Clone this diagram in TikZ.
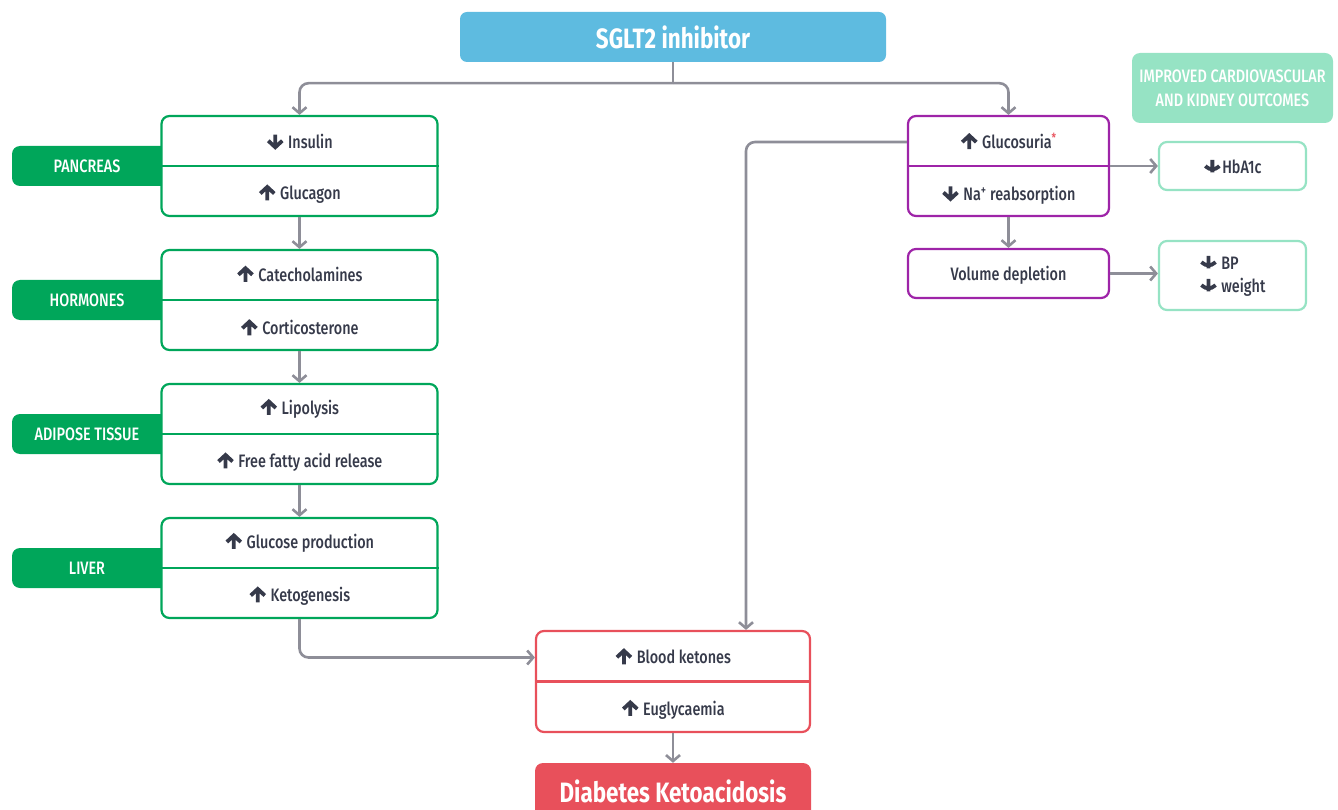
\documentclass[tikz,border=0pt]{standalone}
\usepackage{fontspec}
\setmainfont[FakeStretch=0.8,UprightFont={* Medium},BoldFont={* Bold}]{Fira Sans}
\usetikzlibrary{positioning,arrows.meta}

\definecolor{skyblue}{RGB}{94,187,224}
\definecolor{organgreen}{RGB}{0,166,90}
\definecolor{kidpurple}{RGB}{158,36,168}
\definecolor{ketored}{RGB}{232,80,91}
\definecolor{mint}{RGB}{150,227,196}
\definecolor{arrgray}{RGB}{142,142,152}
\definecolor{txtdark}{RGB}{54,58,74}

% bold arrows used in front of the labels
\newcommand{\upar}{\tikz[baseline=0pt]{\draw[txtdark,line width=3.8pt] (0pt,-0.5pt)--(0pt,13pt) (-7pt,6.5pt)--(0pt,13pt)--(7pt,6.5pt);}\hspace{4pt}}
\newcommand{\dnar}{\tikz[baseline=0pt]{\draw[txtdark,line width=3.8pt] (0pt,14pt)--(0pt,1.5pt) (-7pt,8pt)--(0pt,1.5pt)--(7pt,8pt);}\hspace{4pt}}

\tikzset{
  grp/.style={draw=#1, line width=2.2pt, rounded corners=8pt, fill=white, minimum width=276pt, minimum height=100pt},
  lbl/.style={text=txtdark, font=\fontsize{18}{21}\selectfont, inner sep=0pt},
  tab/.style={fill=organgreen, rounded corners=8pt, minimum width=166pt, minimum height=40pt, text=white, font=\fontsize{18}{21}\selectfont},
  conn/.style={draw=arrgray, line width=2.6pt, rounded corners=9pt, -{Straight Barb[length=6pt,width=14pt]}},
}

\begin{document}
\begin{tikzpicture}[x=1pt,y=-1pt]
  %%%%% START %%%%%
  \useasboundingbox (0,0) rectangle (1338,810);

  \node[fill=skyblue, rounded corners=7pt, minimum width=426pt, minimum height=50pt, text=white, font=\bfseries\fontsize{28}{32}\selectfont] (sglt) at (673,37) {SGLT2 inhibitor};

  % organ tabs (right end hidden under the boxes)
  \node[tab] (lbpanc) at (95,166) {PANCREAS\kern16pt};
  \node[tab] (lbhorm) at (95,300) {HORMONES\kern16pt};
  \node[tab] (lbadip) at (95,434) {ADIPOSE TISSUE\kern16pt};
  \node[tab] (lbliver) at (95,568) {LIVER\kern16pt};

  % left column
  \node[grp=organgreen] (panc) at (299.5,166) {};
  \node[grp=organgreen, below=31.8pt of panc] (horm) {};
  \node[grp=organgreen, below=31.8pt of horm] (adip) {};
  \node[grp=organgreen, below=31.8pt of adip] (liver) {};
  \draw[organgreen, line width=2.2pt] (panc.west) -- (panc.east);
  \draw[organgreen, line width=2.2pt] (horm.west) -- (horm.east);
  \draw[organgreen, line width=2.2pt] (adip.west) -- (adip.east);
  \draw[organgreen, line width=2.2pt] (liver.west) -- (liver.east);

  \node[lbl] (insulin) at ([yshift=25pt]panc.center) {\dnar Insulin};
  \node[lbl] (glucagon) at ([yshift=-28.5pt]panc.center) {\upar Glucagon};
  \node[lbl] (catech) at ([yshift=25pt]horm.center) {\upar Catecholamines};
  \node[lbl] (cortic) at ([yshift=-28.5pt]horm.center) {\upar Corticosterone};
  \node[lbl] (lipol) at ([yshift=25pt]adip.center) {\upar Lipolysis};
  \node[lbl] (ffa) at ([yshift=-28.5pt]adip.center) {\upar Free fatty acid release};
  \node[lbl] (glcprod) at ([yshift=25pt]liver.center) {\upar Glucose production};
  \node[lbl] (ketog) at ([yshift=-28.5pt]liver.center) {\upar Ketogenesis};

  % kidney side
  \node[grp=kidpurple, minimum width=201pt] (kid) at (1008.5,166) {};
  \draw[kidpurple, line width=2.2pt] (kid.west) -- (kid.east);
  \node[lbl] (gluc) at ([yshift=24pt]kid.center) {\upar Glucosuria{\color{ketored}\textsuperscript{*}}};
  \node[lbl] (nareab) at ([yshift=-28.5pt]kid.center) {\dnar Na\textsuperscript{+} reabsorption};
  \node[grp=kidpurple, minimum width=201pt, minimum height=49pt, lbl, text depth=0pt] (vol) at (1008.5,273.5) {Volume depletion};

  \node[fill=mint, rounded corners=8pt, minimum width=201pt, minimum height=70pt, text=white, align=center, font=\fontsize{18}{24}\selectfont] (improved) at (1232.5,88) {IMPROVED CARDIOVASCULAR\\AND KIDNEY OUTCOMES};
  \node[grp=mint, minimum width=147pt, minimum height=48pt, lbl, text depth=0pt] (hba) at (1232.5,166) {\dnar\hspace{-3pt}HbA1c};
  \node[grp=mint, minimum width=147pt, minimum height=69pt, lbl, align=left, font=\fontsize{18}{23}\selectfont] (bp) at (1232.5,275.5) {\dnar BP\\\dnar weight};

  % outcome
  \node[grp=ketored, minimum width=274pt, minimum height=101pt] (blood) at (673,681.5) {};
  \draw[ketored, line width=2.2pt] (blood.west) -- (blood.east);
  \node[lbl] (ket) at ([yshift=24pt]blood.center) {\upar Blood ketones};
  \node[lbl] (eugly) at ([yshift=-28.5pt]blood.center) {\upar Euglycaemia};
  \node[fill=ketored, rounded corners=8pt, minimum width=276pt, minimum height=56pt, text=white, font=\bfseries\fontsize{28}{32}\selectfont] (dka) at (673,791) {Diabetes Ketoacidosis};

  % connectors
  \coordinate (split) at ([yshift=-21pt]sglt.south);
  \draw[draw=arrgray, line width=2.6pt] (sglt.south) -- (split);
  \draw[conn] (split) -| (panc.north);
  \draw[conn] (split) -| (kid.north);
  \draw[conn] (panc.south) -- (horm.north);
  \draw[conn] (horm.south) -- (adip.north);
  \draw[conn] (adip.south) -- (liver.north);
  \draw[conn] (liver.south) |- (blood.west |- ket);
  \draw[conn] (kid.west |- gluc) -| ([xshift=73pt]blood.north);
  \draw[conn] (kid.east) -- (hba.west);
  \draw[conn] (kid.south) -- (vol.north);
  \draw[conn] (vol.east) -- (bp.west |- vol.east);
  \draw[conn] (blood.south) -- (dka.north);
  %%%%% END %%%%%
\end{tikzpicture}
\end{document}
